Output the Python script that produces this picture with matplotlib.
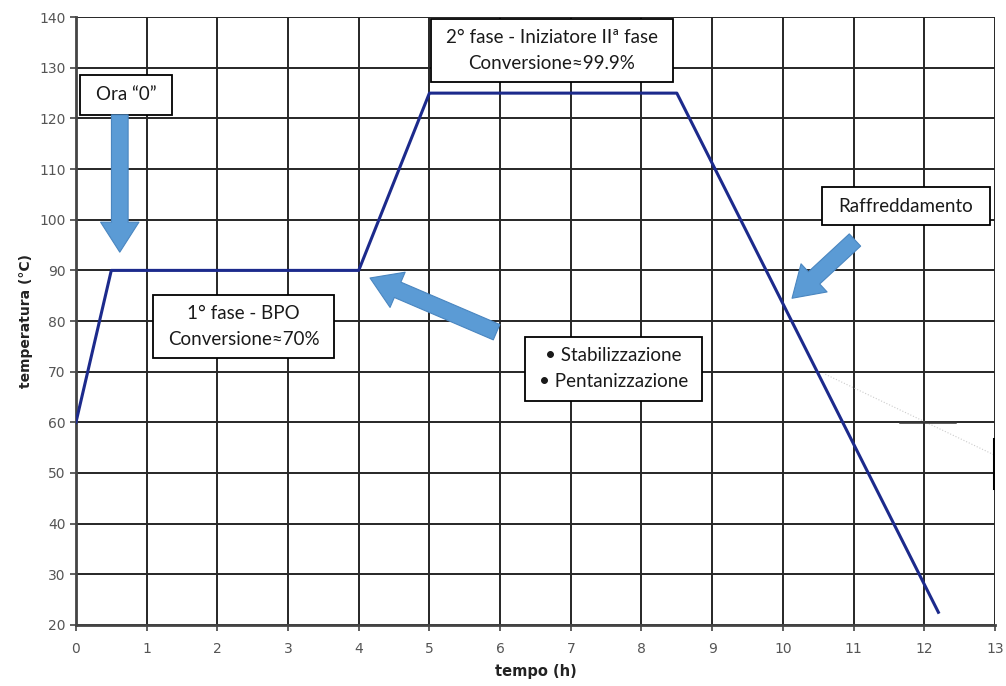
import matplotlib
matplotlib.use('Agg')
import matplotlib.pyplot as plt
from matplotlib.patches import Rectangle, FancyArrowPatch

# temperature profile (h, degC)
tempo = [0.0, 0.5, 4.0, 5.0, 8.5, 12.2]
temperatura = [60, 90, 90, 125, 125, 22.5]

# boxes: (text, x0, x1, y0, y1)
boxes = [
    ('Ora \u201c0\u201d', 0.06, 1.36, 120.7, 128.6),
    ('2\u00b0 fase - Iniziatore II\u00aa fase\nConversione\u224899.9%', 5.02, 8.44, 127.2, 139.6),
    ('1\u00b0 fase - BPO\nConversione\u224870%', 1.09, 3.65, 72.7, 85.1),
    ('\u2022 Stabilizzazione\n\u2022 Pentanizzazione', 6.35, 8.85, 64.2, 76.9),
    ('Raffreddamento', 10.55, 12.93, 98.9, 106.4),
]
# arrows: (tail, tip)
arrows = [
    ((0.62, 120.7), (0.62, 93.6)),
    ((5.95, 77.8), (4.16, 88.5)),
    ((11.02, 96.0), (10.13, 84.5)),
]

fig = plt.figure(figsize=(10.06, 6.86), dpi=100)
ax = fig.add_axes([0.0755, 0.089, 0.9135, 0.886])

ax.set_xlim(0, 13)
ax.set_ylim(20, 140)
ax.set_xticks(range(0, 14))
ax.set_yticks(range(20, 141, 10))
ax.grid(True, color='#262626', lw=1.4)
ax.set_axisbelow(True)
for s in ax.spines.values():
    s.set_visible(False)
ax.spines['left'].set_visible(True)
ax.spines['bottom'].set_visible(True)
ax.spines['left'].set_color('#444444')
ax.spines['bottom'].set_color('#444444')
ax.spines['left'].set_linewidth(2)
ax.spines['bottom'].set_linewidth(2)
ax.tick_params(colors='#444444', labelcolor='#555555', labelsize=10,
               length=4, width=1.2)
ax.tick_params(axis='x', pad=8)

ax.plot(tempo, temperatura, color='#1c2a8c', lw=2.2, zorder=3)

# small artifacts in the original
ax.plot([10.6, 13.0], [69.5, 53.5], color='#cccccc', lw=0.8, ls=':', zorder=2)
ax.plot([11.65, 12.43], [60, 60], color='#333333', lw=1.8, zorder=2)
ax.plot([12.98, 12.98], [47, 56.7], color='black', lw=2.2, zorder=2)

for txt, x0, x1, y0, y1 in boxes:
    ax.add_patch(Rectangle((x0, y0), x1 - x0, y1 - y0, fc='white',
                           ec='black', lw=1.3, zorder=5))
    ax.text((x0 + x1) / 2, (y0 + y1) / 2, txt, ha='center', va='center',
            fontsize=13.5, family='Lato', linespacing=1.65, zorder=6,
            color='#1a1a1a')

for tail, tip in arrows:
    ar = FancyArrowPatch(tail, tip, arrowstyle='simple,head_width=2.3,head_length=1.8,tail_width=1.0',
                         mutation_scale=12, fc='#5b9bd5', ec='#4a86c0', lw=0.8,
                         zorder=7, shrinkA=0, shrinkB=0)
    ax.add_patch(ar)

ax.set_xlabel('tempo (h)', fontsize=10.5, fontweight='bold', color='#222222', labelpad=6)
ax.set_ylabel('temperatura (\u00b0C)', fontsize=10, fontweight='bold', color='#222222', labelpad=4)

fig.savefig('out.png', dpi=100)
